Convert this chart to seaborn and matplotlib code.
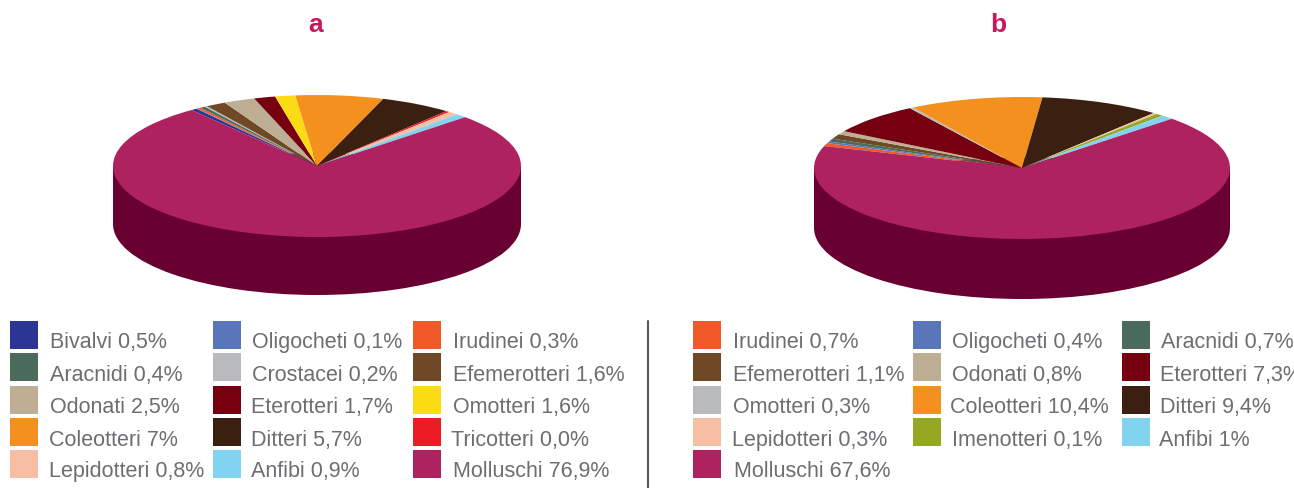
import matplotlib
matplotlib.use("Agg")
import matplotlib.pyplot as plt
from matplotlib.patches import Rectangle
import seaborn as sns

# slice values, in drawing order (clockwise)
names_a = ["Bivalvi", "Oligocheti", "Irudinei", "Aracnidi", "Crostacei", "Efemerotteri", "Odonati", "Eterotteri",
           "Omotteri", "Coleotteri", "Ditteri", "Tricotteri", "Lepidotteri", "Anfibi", "Molluschi"]
values_a = [0.5, 0.1, 0.3, 0.4, 0.2, 1.6, 2.5, 1.7, 1.6, 7, 5.7, 0.3, 0.8, 0.9, 76.9]

names_b = ["Irudinei", "Oligocheti", "Aracnidi", "Efemerotteri", "Odonati", "Eterotteri", "Omotteri",
           "Coleotteri", "Ditteri", "Lepidotteri", "Imenotteri", "Anfibi", "Molluschi"]
values_b = [0.7, 0.4, 0.7, 1.1, 0.8, 7.3, 0.3, 10.4, 9.4, 0.3, 0.6, 1, 67.6]

# legend text, row by row
legend_a = ["Bivalvi", "Oligocheti", "Irudinei", "Aracnidi", "Crostacei", "Efemerotteri", "Odonati", "Eterotteri",
            "Omotteri", "Coleotteri", "Ditteri", "Tricotteri", "Lepidotteri", "Anfibi", "Molluschi"]
labels_a = ["0,5%", "0,1%", "0,3%", "0,4%", "0,2%", "1,6%", "2,5%", "1,7%", "1,6%", "7%", "5,7%", "0,0%", "0,8%",
            "0,9%", "76,9%"]
legend_b = ["Irudinei", "Oligocheti", "Aracnidi", "Efemerotteri", "Odonati", "Eterotteri", "Omotteri", "Coleotteri",
            "Ditteri", "Lepidotteri", "Imenotteri", "Anfibi", "Molluschi"]
labels_b = ["0,7%", "0,4%", "0,7%", "1,1%", "0,8%", "7,3%", "0,3%", "10,4%", "9,4%", "0,3%", "0,1%", "1%", "67,6%"]

colors = {
    "Bivalvi": "#2b3594", "Oligocheti": "#5876b9", "Irudinei": "#ef5a28", "Aracnidi": "#4a6b5b",
    "Crostacei": "#b8babd", "Efemerotteri": "#6f4826", "Odonati": "#bdae94", "Eterotteri": "#760010",
    "Omotteri": "#fbdb14", "Coleotteri": "#f4911e", "Ditteri": "#3b2012", "Tricotteri": "#ec1c24",
    "Lepidotteri": "#f6bfa3", "Imenotteri": "#94a821", "Anfibi": "#82d3f0", "Molluschi": "#ae235f",
}
colors_b = dict(colors, Omotteri="#b8babd")

sns.set_theme(style="white")
plt.rcParams["font.family"] = ["Liberation Sans Narrow", "Liberation Sans", "DejaVu Sans"]

W, H = 1294, 488
fig = plt.figure(figsize=(W / 100, H / 100), dpi=100)
bg = fig.add_axes([0, 0, 1, 1])
bg.set_xlim(0, W)
bg.set_ylim(H, 0)
bg.axis("off")


def cake(names, values, palette, cx, cy, rx, ry, depth, start):
    d = depth / ry
    ax = fig.add_axes([(cx - rx) / W, 1 - (cy + ry + depth) / H, 2 * rx / W, (2 * ry + depth) / H])
    # dark wall first, the top goes over it
    ax.pie([1], colors=["#680032"], center=(0, -d), wedgeprops={"linewidth": 0})
    ax.fill_between([-1, 1], [-d, -d], [0, 0], color="#680032", linewidth=0)
    pal = sns.color_palette([palette[n] for n in names])
    ax.pie(values, colors=pal, startangle=start, counterclock=False, wedgeprops={"linewidth": 0})
    ax.set_aspect("auto")
    ax.set_xlim(-1, 1)
    ax.set_ylim(-1 - d, 1)


cake(names_a, values_a, colors, 317, 166, 204, 71, 58, 128)
cake(names_b, values_b, colors_b, 1022, 168, 208, 71, 60, 162)

bg.text(316, 25, "a", color="#c8175d", fontsize=19, fontweight="bold", ha="center", va="center")
bg.text(998, 25, "b", color="#c8175d", fontsize=19, fontweight="bold", ha="center", va="center")

# legend layout, in pixels
box_y = [321, 353, 386, 418, 450]
base_y = [348, 381, 413, 446, 477]


def legend(names, labels, palette, box_x, text_x):
    for i, (n, l) in enumerate(zip(names, labels)):
        row, col = i // 3, i % 3
        bg.add_patch(Rectangle((box_x[col], box_y[row]), 28, 28, color=palette[n], linewidth=0))
        bg.text(text_x[i], base_y[row], n + " " + l, color="#6d6e71", fontsize=15.5, va="baseline")


legend(legend_a, labels_a, colors, [10, 212.5, 413],
       [50, 252, 453, 50, 252, 453, 50, 251, 453, 49, 251, 451, 49, 251, 453])
legend(legend_b, labels_b, colors_b, [693, 913, 1122],
       [733, 952, 1161, 733, 952, 1160, 733, 950, 1160, 732, 952, 1159, 734])

bg.plot([648, 648], [321, 488], color="#58595b", linewidth=1.5)

plt.savefig("out.png", dpi=100)
